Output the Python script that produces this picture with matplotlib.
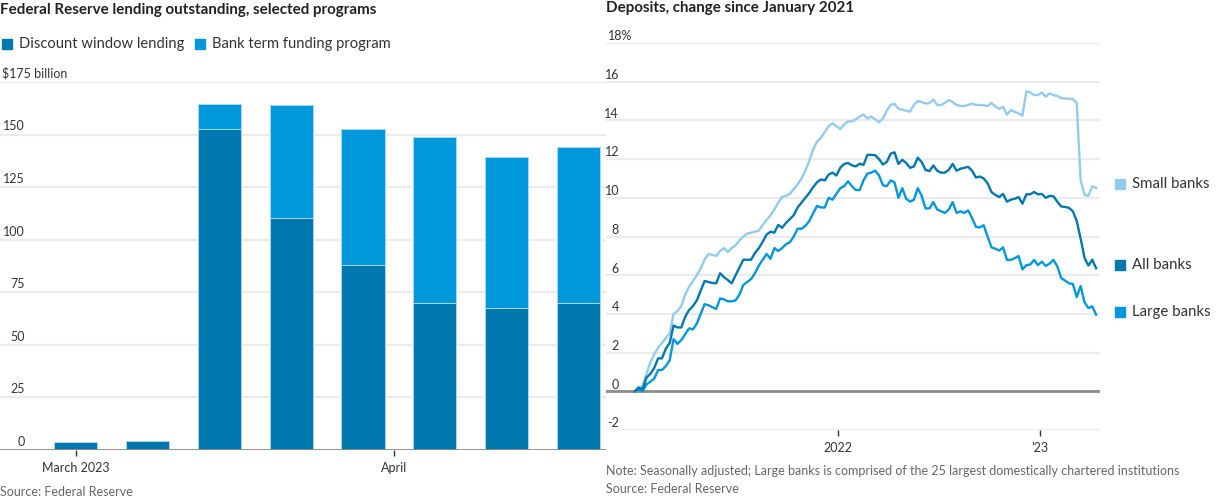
import numpy as np
import pandas as pd
import matplotlib
matplotlib.use("Agg")
import matplotlib.pyplot as plt
import matplotlib.dates as mdates
from matplotlib.patches import Rectangle
from matplotlib.transforms import offset_copy

plt.rcParams['font.family'] = ['Lato', 'DejaVu Sans']

# ---------------- Left chart data ----------------
bar_dates = ["2023-03-01", "2023-03-08", "2023-03-15", "2023-03-22",
             "2023-03-29", "2023-04-05", "2023-04-12", "2023-04-19"]
discount_window = [4.0, 4.5, 152.6, 110.2, 88.2, 69.7, 67.6, 69.9]
btfp = [0.0, 0.0, 11.9, 53.7, 64.4, 79.0, 71.8, 74.0]
left_yticks = [0, 25, 50, 75, 100, 125, 150]
left_xtick_dates = ["2023-03-01", "2023-04-01"]
left_xtick_labels = ["March 2023", "April"]

# ---------------- Right chart data ----------------
dep_start = "2020-12-30"
small_banks = [0.0, 0.1, 0.3, 0.9, 1.5, 1.9, 2.25, 2.5, 2.75, 3.0,
               4.0, 4.15, 4.4, 5.0, 5.4, 5.7, 6.0, 6.35, 6.8, 7.1,
               7.05, 7.0, 7.25, 7.4, 7.2, 7.4, 7.55, 7.8, 8.0, 8.15,
               8.2, 8.25, 8.3, 8.6, 8.85, 9.1, 9.4, 9.75, 10.05, 10.1,
               10.2, 10.45, 10.7, 11.0, 11.4, 11.9, 12.5, 12.9, 13.1, 13.4,
               13.7, 13.85, 13.7, 13.55, 13.8, 13.95, 13.95, 14.05, 14.2, 14.3,
               14.1, 14.2, 14.05, 13.9, 14.1, 14.5, 14.8, 14.85, 14.6, 14.55,
               14.5, 14.45, 14.8, 15.0, 14.95, 14.87, 14.9, 15.08, 14.8, 14.8,
               14.9, 15.05, 14.95, 14.8, 14.75, 14.74, 14.8, 14.87, 14.8, 14.8,
               14.78, 14.74, 14.9, 14.72, 14.6, 14.7, 14.3, 14.53, 14.45, 14.36,
               14.25, 15.5, 15.45, 15.3, 15.32, 15.44, 15.22, 15.4, 15.3, 15.27,
               15.15, 15.13, 15.12, 15.1, 14.9, 10.9, 10.15, 10.1, 10.6, 10.5]
all_banks = [0.0, 0.2, 0.1, 0.7, 0.9, 1.2, 1.7, 1.7, 2.2, 2.5,
             3.4, 3.3, 3.3, 3.85, 4.2, 4.4, 4.7, 5.2, 5.7, 5.65,
             5.6, 5.58, 6.1, 5.9, 5.75, 5.58, 6.0, 6.4, 6.8, 6.8,
             6.8, 7.15, 7.4, 7.73, 8.1, 8.25, 8.2, 8.6, 8.45, 8.7,
             8.9, 9.1, 9.5, 9.75, 10.0, 10.25, 10.55, 10.8, 10.95, 10.9,
             11.2, 11.3, 11.15, 11.55, 11.75, 11.8, 11.68, 11.62, 11.76, 11.7,
             12.22, 12.22, 12.2, 12.0, 11.72, 11.85, 12.28, 12.35, 11.75, 11.96,
             11.8, 11.55, 11.62, 12.07, 11.85, 11.44, 11.38, 11.67, 11.4, 11.3,
             11.3, 11.45, 11.75, 11.4, 11.5, 11.55, 11.6, 11.4, 11.05, 11.1,
             11.0, 10.75, 10.3, 10.15, 10.04, 10.2, 9.8, 9.9, 9.95, 10.04,
             9.7, 10.18, 10.18, 10.3, 10.18, 10.2, 10.0, 10.1, 10.08, 9.8,
             9.55, 9.53, 9.48, 9.3, 8.8, 7.9, 6.9, 6.5, 6.8, 6.36]
large_banks = [0.0, 0.1, 0.0, 0.35, 0.5, 0.65, 1.1, 1.1, 1.3, 1.6,
               2.7, 2.45, 2.65, 2.95, 3.25, 3.2, 3.5, 4.0, 4.5, 4.45,
               4.35, 4.25, 4.8, 4.75, 4.65, 4.65, 4.7, 5.0, 5.5, 5.65,
               5.8, 6.1, 6.5, 6.8, 7.1, 6.85, 7.4, 7.25, 7.4, 7.6,
               7.7, 8.0, 8.4, 8.4, 8.55, 8.8, 9.2, 9.58, 9.5, 9.5,
               10.0, 9.9, 10.2, 10.5, 10.6, 10.85, 10.6, 10.4, 10.4, 10.9,
               11.25, 11.3, 11.4, 11.15, 10.65, 10.6, 10.9, 10.8, 10.0, 10.5,
               9.95, 9.8, 9.9, 10.5, 10.1, 9.45, 9.45, 9.78, 9.4, 9.3,
               9.22, 9.4, 9.78, 9.22, 9.3, 9.22, 9.35, 8.95, 8.5, 8.47,
               8.58, 8.0, 7.44, 7.37, 7.27, 7.44, 6.79, 6.79, 6.88, 6.99,
               6.3, 6.52, 6.55, 6.79, 6.52, 6.7, 6.48, 6.6, 6.79, 6.45,
               5.85, 5.72, 5.58, 5.55, 4.87, 5.44, 4.6, 4.3, 4.39, 3.96]
right_yticks = [-2, 0, 2, 4, 6, 8, 10, 12, 14, 16]
right_top_label = "18%"
right_xtick_dates = ["2022-01-01", "2023-01-01"]
right_xtick_labels = ["2022", "\u201923"]
series_names = ["Small banks", "All banks", "Large banks"]

# ---------------- Style ----------------
DARK = "#0078ad"
MID = "#0098db"
LIGHT = "#92cbee"
EDGE = "#a9d9f2"
GRID = "#ebebeb"
ZERO = "#8c8c8c"
TXT = "#333333"
TITLE = "#222222"
NOTE = "#666666"

W, H = 1216, 500
fig = plt.figure(figsize=(W / 100, H / 100), dpi=100)

def fx(px):
    return px / W

def fy(py):
    return 1 - py / H

# ================= Left chart =================
ax1 = fig.add_axes([fx(0), fy(450), fx(606), (450 - 82) / H])
ref = pd.Timestamp("2023-03-01")
bx = np.array([(pd.Timestamp(d) - ref).days for d in bar_dates], dtype=float)
ax1.set_xlim(-7.4, 51.7)
ax1.set_ylim(0, 175)
for s in ax1.spines.values():
    s.set_visible(False)
for v in left_yticks[1:] + [175]:
    ax1.axhline(v, color=GRID, lw=1.6, zorder=0)
ax1.bar(bx, discount_window, width=4.2, color=DARK, edgecolor=EDGE, linewidth=0.7, zorder=2)
ax1.bar(bx, btfp, bottom=discount_window, width=4.2, color=MID, edgecolor=EDGE, linewidth=0.7, zorder=2)
ax1.axhline(0, color=ZERO, lw=2.0, zorder=3)

ytr = offset_copy(ax1.get_yaxis_transform(), fig=fig, x=0, y=1.5, units='points')
for v in left_yticks:
    ax1.text(25 / 606, v, str(v), transform=ytr, ha='right', va='bottom',
             fontsize=9, color=TXT)
ax1.text(2 / 606, 175, "$175 billion", transform=ytr, ha='left', va='bottom',
         fontsize=9, color=TXT)
ax1.set_yticks([])
lx = [(pd.Timestamp(d) - ref).days for d in left_xtick_dates]
ax1.set_xticks(lx)
ax1.set_xticklabels(left_xtick_labels)
ax1.tick_params(axis='x', length=4, width=1, color=TXT, labelsize=9,
                labelcolor=TXT, pad=5)

# ================= Right chart =================
ax2 = fig.add_axes([fx(606), fy(430), fx(1100 - 606), (430 - 43) / H])
dates = pd.date_range(dep_start, periods=len(all_banks), freq="7D")
ax2.set_xlim(mdates.date2num(pd.Timestamp("2020-11-08")),
             mdates.date2num(pd.Timestamp("2023-04-19")))
ax2.set_ylim(-2, 18)
for s in ax2.spines.values():
    s.set_visible(False)
for v in right_yticks + [18]:
    if v != 0:
        ax2.axhline(v, color=GRID, lw=1.6, zorder=0)
ax2.axhline(0, color=ZERO, lw=2.0, zorder=1)
ax2.plot(dates, small_banks, color=LIGHT, lw=1.7, zorder=3)
ax2.plot(dates, large_banks, color=MID, lw=1.7, zorder=4)
ax2.plot(dates, all_banks, color=DARK, lw=1.7, zorder=5)

ytr2 = offset_copy(ax2.get_yaxis_transform(), fig=fig, x=0, y=0.5, units='points')
for v in right_yticks:
    ax2.text(13 / 494, v, str(v), transform=ytr2, ha='right', va='bottom',
             fontsize=9, color=TXT)
ax2.text(2 / 494, 18, right_top_label, transform=ytr2, ha='left', va='bottom',
         fontsize=9, color=TXT)
ax2.set_yticks([])
ax2.set_xticks([mdates.date2num(pd.Timestamp(d)) for d in right_xtick_dates])
ax2.set_xticklabels(right_xtick_labels)
ax2.tick_params(axis='x', length=4, width=1, color=TXT, labelsize=9,
                labelcolor=TXT, pad=5)

# ================= Titles, legends, notes =================
fig.text(fx(0), fy(10), "Federal Reserve lending outstanding, selected programs",
         ha='left', va='center', fontsize=10.9, fontweight='bold', color=TITLE)
fig.text(fx(606), fy(8), "Deposits, change since January 2021",
         ha='left', va='center', fontsize=10.9, fontweight='bold', color=TITLE)

def square(px, py, color):
    fig.patches.append(Rectangle((fx(px), fy(py + 10)), fx(10), 10 / H,
                                 transform=fig.transFigure, color=color,
                                 figure=fig))

square(2, 39, DARK)
fig.text(fx(19), fy(44), "Discount window lending", ha='left', va='center',
         fontsize=10.6, color=TXT)
square(195, 39, MID)
fig.text(fx(212), fy(44), "Bank term funding program", ha='left', va='center',
         fontsize=10.6, color=TXT)

leg_y = [184, 265, 312]
leg_c = [LIGHT, DARK, MID]
for name, yy, cc in zip(series_names, leg_y, leg_c):
    square(1115, yy - 5, cc)
    fig.text(fx(1132), fy(yy), name, ha='left', va='center', fontsize=10.8, color=TXT)

fig.text(fx(0), fy(492), "Source: Federal Reserve", ha='left', va='center',
         fontsize=9, color=NOTE)
fig.text(fx(606), fy(471),
         "Note: Seasonally adjusted; Large banks is comprised of the 25 largest domestically chartered institutions",
         ha='left', va='center', fontsize=9, color=NOTE)
fig.text(fx(606), fy(489), "Source: Federal Reserve", ha='left', va='center',
         fontsize=9, color=NOTE)

fig.savefig("out.png", dpi=100)
